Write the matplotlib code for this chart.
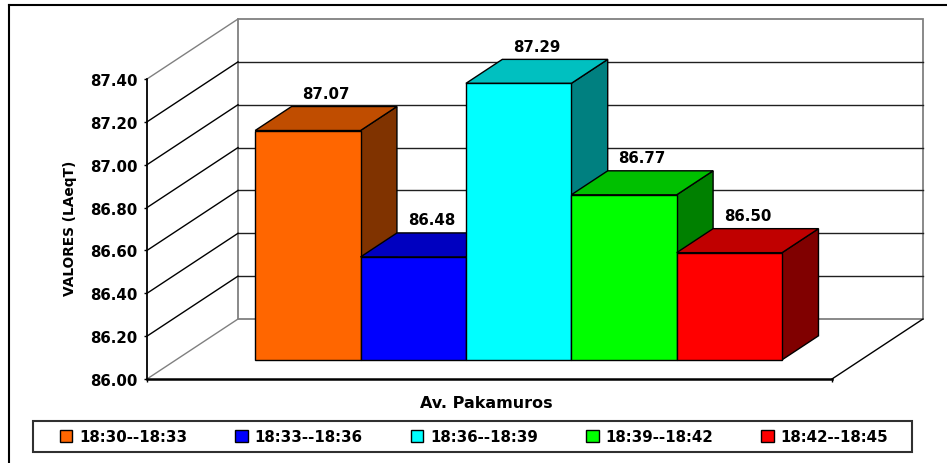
import matplotlib
matplotlib.use("Agg")
import matplotlib.pyplot as plt
from matplotlib.patches import Polygon, Rectangle
from matplotlib.lines import Line2D

# ---- data ----
category = "Av. Pakamuros"
series_labels = ["18:30--18:33", "18:33--18:36", "18:36--18:39", "18:39--18:42", "18:42--18:45"]
values = [87.07, 86.48, 87.29, 86.77, 86.50]
y_ticks = [86.00, 86.20, 86.40, 86.60, 86.80, 87.00, 87.20, 87.40]
y_label = "VALORES (LAeqT)"

# ---- style ----
front_colors = ["#FF6600", "#0000FF", "#00FFFF", "#00FF00", "#FF0000"]
top_colors = ["#C04D00", "#0000C0", "#00C0C0", "#00C000", "#C00000"]
side_colors = ["#803300", "#000080", "#008080", "#008000", "#800000"]

FS = 10.8
plt.rcParams["font.family"] = ["DejaVu Sans"]
plt.rcParams["font.weight"] = "bold"

W, H = 947, 464
fig = plt.figure(figsize=(W / 100, H / 100), dpi=100)
fig.patch.set_facecolor("white")

# front plane of the 3-D box
ax = fig.add_axes([147 / W, 84 / H, 685 / W, 300 / H])
n = len(values)
gap = 1.5                    # gap width, in bar widths
x_span = n + gap
ymin, ymax = y_ticks[0], y_ticks[-1]
ax.set_xlim(0, x_span)
ax.set_ylim(ymin, ymax)
ax.set_facecolor("none")

# oblique depth vector (data units) for full depth of the box
DX, DY = 0.8635, 0.28


def proj(x, y, d):
    return (x + d * DX, y + d * DY)


gray = "#808080"
# back wall
back = Polygon([proj(0, ymin, 1), proj(x_span, ymin, 1), proj(x_span, ymax, 1), proj(0, ymax, 1)],
               closed=True, facecolor="white", edgecolor=gray, lw=1.3, clip_on=False, zorder=1)
ax.add_patch(back)
for t in y_ticks[1:-1]:
    p0, p1 = proj(0, t, 1), proj(x_span, t, 1)
    ax.add_line(Line2D([p0[0], p1[0]], [p0[1], p1[1]], color="#202020", lw=1.0, clip_on=False, zorder=1.5))

# left wall diagonals
for t in y_ticks:
    p0, p1 = proj(0, t, 0), proj(0, t, 1)
    c = gray if t in (ymin, ymax) else "black"
    ax.add_line(Line2D([p0[0], p1[0]], [p0[1], p1[1]], color=c, lw=1.0, clip_on=False, zorder=1.5))

# floor right edge
p0, p1 = proj(x_span, ymin, 0), proj(x_span, ymin, 1)
ax.add_line(Line2D([p0[0], p1[0]], [p0[1], p1[1]], color="black", lw=1.0, clip_on=False, zorder=1.5))

# bars
d0, d1 = 0.32, 0.72
for i, v in enumerate(values):
    x0 = gap / 2 + i
    x1 = x0 + 1
    front = [proj(x0, ymin, d0), proj(x1, ymin, d0), proj(x1, v, d0), proj(x0, v, d0)]
    top = [proj(x0, v, d0), proj(x1, v, d0), proj(x1, v, d1), proj(x0, v, d1)]
    side = [proj(x1, ymin, d0), proj(x1, ymin, d1), proj(x1, v, d1), proj(x1, v, d0)]
    z = 3 + i
    for pts, col in ((side, side_colors[i]), (top, top_colors[i]), (front, front_colors[i])):
        ax.add_patch(Polygon(pts, closed=True, facecolor=col, edgecolor="black",
                             lw=1.0, joinstyle="miter", clip_on=False, zorder=z))
    dm = (d0 + d1) / 2
    ax.annotate(f"{v:.2f}", xy=(x0 + 0.5 + dm * DX, v + d1 * DY), xytext=(0, 9.5),
                textcoords="offset points", ha="center", va="center",
                fontsize=FS, fontweight="bold", zorder=20, annotation_clip=False)

# axes
for s in ("top", "right"):
    ax.spines[s].set_visible(False)
ax.spines["left"].set_linewidth(1.3)
ax.spines["bottom"].set_linewidth(1.8)
ax.spines["left"].set_zorder(2)
ax.spines["bottom"].set_zorder(2)
ax.set_yticks(y_ticks)
ax.set_yticklabels([f"{t:.2f}" for t in y_ticks], fontsize=FS, fontweight="bold")
ax.set_xticks([0, x_span])
ax.set_xticklabels(["", ""])
ax.tick_params(axis="both", direction="out", length=2.4, width=1.0, pad=4.2)

ax.set_ylabel(y_label, fontsize=9.9, fontweight="bold")
ax.yaxis.set_label_coords(-0.102, 0.505)
ax.set_xlabel(category, fontsize=11.5, fontweight="bold")
ax.xaxis.set_label_coords(0.495, -0.052)

# legend
handles = [Rectangle((0, 0), 1, 1, facecolor=c, edgecolor="black", lw=1.0) for c in front_colors]
leg = fig.legend(handles, series_labels, loc="center", ncol=n,
                 bbox_to_anchor=(474.0 / W, 1 - 437.5 / H), frameon=False,
                 prop={"size": FS, "weight": "bold"}, handlelength=0.85, handleheight=0.85,
                 handletextpad=0.45, columnspacing=3.2, borderpad=0.2)
fig.add_artist(Rectangle((33 / W, 1 - 453 / H), 879 / W, 31 / H, transform=fig.transFigure,
                         facecolor="none", edgecolor="#303030", lw=1.5))

# outer chart frame
fig.add_artist(Line2D([9 / W, 9 / W], [0, 1 - 6 / H], transform=fig.transFigure, color="black", lw=1.5))
fig.add_artist(Line2D([9 / W, 1], [1 - 6 / H, 1 - 6 / H], transform=fig.transFigure, color="black", lw=1.5))

fig.savefig("out.png", dpi=100, facecolor="white")
